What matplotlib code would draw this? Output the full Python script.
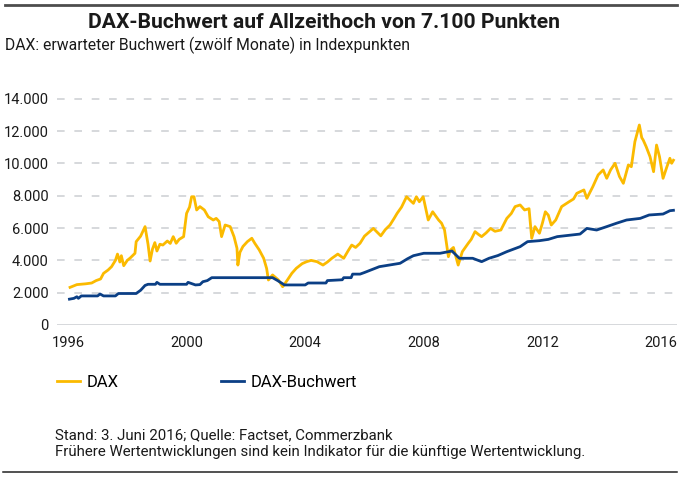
import matplotlib
matplotlib.use("Agg")
import matplotlib.pyplot as plt
from matplotlib.lines import Line2D
from matplotlib.ticker import FuncFormatter

plt.rcParams['font.family'] = ['Roboto', 'DejaVu Sans']
plt.rcParams['lines.scale_dashes'] = False

# DAX index (decimal years, points)
dax_years = [1996.07, 1996.3, 1996.6, 1996.8, 1996.95, 1997.1, 1997.2, 1997.35, 1997.47, 1997.6,
             1997.67, 1997.75, 1997.8, 1997.88, 1998.0, 1998.1, 1998.26, 1998.3, 1998.45, 1998.6,
             1998.7, 1998.77, 1998.85, 1998.93, 1999.0, 1999.1, 1999.2, 1999.35, 1999.45, 1999.55,
             1999.65, 1999.75, 1999.9, 2000.0, 2000.1, 2000.17, 2000.25, 2000.34, 2000.45, 2000.6,
             2000.73, 2000.9, 2001.0, 2001.1, 2001.18, 2001.3, 2001.47, 2001.6, 2001.7, 2001.73,
             2001.8, 2001.9, 2002.05, 2002.2, 2002.3, 2002.45, 2002.6, 2002.7, 2002.76, 2002.9,
             2003.1, 2003.24, 2003.4, 2003.55, 2003.7, 2003.9, 2004.05, 2004.2, 2004.4, 2004.6,
             2004.75, 2004.9, 2005.1, 2005.3, 2005.45, 2005.57, 2005.7, 2005.85, 2006.0, 2006.3,
             2006.45, 2006.55, 2006.7, 2006.86, 2007.0, 2007.1, 2007.25, 2007.42, 2007.55, 2007.65,
             2007.75, 2007.85, 2007.98, 2008.15, 2008.3, 2008.5, 2008.6, 2008.7, 2008.83, 2008.9,
             2009.0, 2009.16, 2009.3, 2009.5, 2009.6, 2009.73, 2009.85, 2009.95, 2010.1, 2010.25,
             2010.4, 2010.6, 2010.8, 2010.95, 2011.08, 2011.25, 2011.4, 2011.55, 2011.64, 2011.75,
             2011.9, 2012.0, 2012.1, 2012.2, 2012.3, 2012.45, 2012.65, 2012.9, 2013.05, 2013.16,
             2013.4, 2013.5, 2013.7, 2013.88, 2014.05, 2014.17, 2014.3, 2014.45, 2014.6, 2014.73,
             2014.9, 2015.0, 2015.12, 2015.27, 2015.35, 2015.4, 2015.5, 2015.63, 2015.75, 2015.85,
             2015.95, 2016.07, 2016.2, 2016.3, 2016.36, 2016.42]
dax_values = [2330, 2500, 2550, 2600, 2750, 2850, 3200, 3400, 3610, 4000,
              4390, 3900, 4290, 3670, 4000, 4150, 4440, 5160, 5500, 6090,
              5000, 3960, 4700, 5100, 4580, 5000, 4950, 5200, 5050, 5470,
              5060, 5300, 5470, 6910, 7300, 7940, 7940, 7120, 7330, 7120,
              6700, 6500, 6600, 6400, 5470, 6190, 6090, 5470, 4750, 3710,
              4500, 4860, 5160, 5370, 5060, 4650, 4130, 3500, 2785, 3100,
              2785, 2370, 2785, 3200, 3510, 3800, 3920, 4000, 3920, 3710,
              3900, 4130, 4390, 4130, 4600, 4950, 4800, 5060, 5500, 5980,
              5700, 5520, 5900, 6190, 6600, 6910, 7300, 7940, 7700, 7530,
              7940, 7630, 7940, 6500, 7010, 6500, 6300, 5880, 4230, 4640,
              4800, 3710, 4540, 5060, 5300, 5780, 5600, 5470, 5700, 5980,
              5800, 5880, 6600, 6900, 7330, 7430, 7120, 7200, 5370, 6090,
              5680, 6300, 7010, 6800, 6190, 6500, 7330, 7630, 7800, 8150,
              8360, 7840, 8560, 9290, 9600, 9080, 9600, 10010, 9190, 8770,
              9910, 9800, 11350, 12380, 11600, 11450, 11040, 10420, 9490, 11140,
              10420, 9080, 9800, 10320, 10010, 10200]

# DAX book value (expected, twelve months)
bw_years = [1996.05, 1996.2, 1996.3, 1996.35, 1996.45, 1997.0, 1997.08, 1997.2, 1997.6, 1997.7,
            1998.3, 1998.45, 1998.6, 1998.7, 1998.95, 1999.0, 1999.1, 2000.0, 2000.05, 2000.3,
            2000.45, 2000.55, 2000.7, 2000.85, 2002.9, 2003.08, 2003.25, 2003.3, 2004.0, 2004.1,
            2004.7, 2004.75, 2005.25, 2005.3, 2005.55, 2005.6, 2005.85, 2006.0, 2006.5, 2007.2,
            2007.45, 2007.65, 2008.0, 2008.55, 2008.95, 2009.2, 2009.65, 2009.95, 2010.2, 2010.5,
            2010.8, 2011.25, 2011.5, 2011.9, 2012.2, 2012.5, 2013.27, 2013.5, 2013.83, 2014.17,
            2014.5, 2014.84, 2015.3, 2015.6, 2016.07, 2016.3, 2016.42]
bw_values = [1600, 1650, 1750, 1650, 1800, 1800, 1920, 1800, 1800, 1950,
             1950, 2150, 2450, 2520, 2520, 2640, 2520, 2520, 2640, 2480,
             2500, 2680, 2750, 2930, 2930, 2740, 2540, 2480, 2480, 2600,
             2600, 2750, 2800, 2930, 2930, 3150, 3150, 3250, 3610, 3820,
             4100, 4290, 4440, 4440, 4580, 4130, 4130, 3920, 4130, 4300,
             4540, 4850, 5160, 5220, 5300, 5470, 5630, 5980, 5880, 6090,
             6300, 6500, 6600, 6810, 6870, 7075, 7100]

x_ticks = [1996, 2000, 2004, 2008, 2012, 2016]
y_ticks = [0, 2000, 4000, 6000, 8000, 10000, 12000, 14000]

yellow = '#FBBA00'
blue = '#0B3F85'
grid_c = '#D3D6D9'
text_c = '#1a1a1a'

W, H = 683, 479
fig = plt.figure(figsize=(W / 100, H / 100), dpi=100)
ax = fig.add_axes([57 / W, 1 - 325 / H, 620 / W, (325 - 94) / H])

ax.plot(dax_years, dax_values, color=yellow, lw=2, label='DAX', solid_joinstyle='round')
ax.plot(bw_years, bw_values, color=blue, lw=2, label='DAX-Buchwert', solid_joinstyle='round')

ax.set_xlim(1995.63, 2016.54)
ax.set_ylim(0, 14300)
ax.set_xticks(x_ticks)
ax.set_yticks(y_ticks)
ax.yaxis.set_major_formatter(FuncFormatter(lambda v, p: f'{int(v):,}'.replace(',', '.')))
ax.tick_params(length=0, labelsize=10.5, colors=text_c)
ax.tick_params(axis='y', pad=6)
ax.tick_params(axis='x', pad=8)
for s in ax.spines.values():
    s.set_visible(False)
for v in y_ticks[1:]:
    ax.axhline(v, color=grid_c, lw=1.3, dashes=(5.5, 7), zorder=0)
ax.axhline(0, color=grid_c, lw=1.3, zorder=0)

ax.legend(loc='upper left', bbox_to_anchor=(57 / W, 1 - 375 / H), bbox_transform=fig.transFigure,
          ncol=2, frameon=False, fontsize=12, handlelength=1.38, handletextpad=0.42,
          columnspacing=6.1, borderaxespad=0, borderpad=0)

fig.text(324 / W, 1 - 22 / H, 'DAX-Buchwert auf Allzeithoch von 7.100 Punkten', ha='center', va='center',
         fontsize=15.2, fontweight='bold', color=text_c)
fig.text(5 / W, 1 - 45 / H, 'DAX: erwarteter Buchwert (zwölf Monate) in Indexpunkten', ha='left',
         va='center', fontsize=11.3, color=text_c)
fig.text(55 / W, 1 - 435 / H, 'Stand: 3. Juni 2016; Quelle: Factset, Commerzbank', ha='left',
         va='center', fontsize=10.8, color=text_c)
fig.text(55 / W, 1 - 452 / H,
         'Frühere Wertentwicklungen sind kein Indikator für die künftige Wertentwicklung.', ha='left',
         va='center', fontsize=10.8, color=text_c)

fig.add_artist(Line2D([5 / W, 677 / W], [1 - 5 / H, 1 - 5 / H], color='#4d4d4d', lw=2))
fig.add_artist(Line2D([3 / W, 677 / W], [1 - 472 / H, 1 - 472 / H], color='#222222', lw=1.1))

fig.savefig('out.png', dpi=100)
